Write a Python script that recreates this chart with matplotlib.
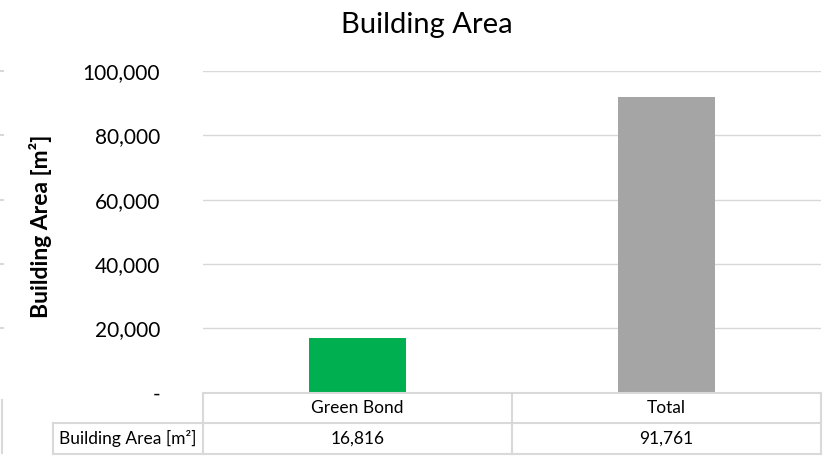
import matplotlib.pyplot as plt
from matplotlib.lines import Line2D
from matplotlib.ticker import FuncFormatter

categories = ['Green Bond', 'Total']
values = [16816, 91761]
series_name = 'Building Area [m²]'
bar_colors = ['#00B050', '#A5A5A5']
y_ticks = [0, 20000, 40000, 60000, 80000, 100000]

W, H = 830, 457
grid_col = '#D9D9D9'

plt.rcParams['font.family'] = ['Lato', 'DejaVu Sans']


def fx(px):
    return px / W


def fy(py):
    return 1 - py / H


def fmt(v, pos=None):
    return '-' if v == 0 else '{:,.0f}'.format(v)


fig = plt.figure(figsize=(W / 100, H / 100), dpi=100, facecolor='w')

# plot area
x0, x1, y0, y1 = 203, 821, 71, 392.5
ax = fig.add_axes([fx(x0), fy(y1), fx(x1) - fx(x0), fy(y0) - fy(y1)])
xx = list(range(len(categories)))
ax.bar(xx, values, width=0.315, color=bar_colors, zorder=3)
ax.set_xlim(-0.5, len(categories) - 0.5)
ax.set_ylim(0, 100000)
ax.set_yticks(y_ticks)
ax.yaxis.set_major_formatter(FuncFormatter(fmt))
ax.set_xticks([])
ax.tick_params(axis='y', length=0, pad=31, labelsize=15, colors='#000000')
for s in ax.spines.values():
    s.set_visible(False)
for t in y_ticks[1:]:
    ax.axhline(t, color=grid_col, lw=1.0, zorder=1)

fig.text(fx(427), fy(25), 'Building Area', ha='center', va='center', fontsize=21)
fig.text(fx(40), fy(226), series_name, rotation=90, ha='center', va='center',
         fontsize=16.5, fontweight='bold')

# data table under the bars
col_edges = [53, 203, 512, 821]
row_edges = [392.5, 423, 453.5]


def hline(y, xa, xb):
    fig.add_artist(Line2D([fx(xa), fx(xb)], [fy(y), fy(y)], color=grid_col, lw=1.5))


def vline(x, ya, yb):
    fig.add_artist(Line2D([fx(x), fx(x)], [fy(ya), fy(yb)], color=grid_col, lw=1.5))


hline(row_edges[0], col_edges[1], col_edges[-1])
hline(row_edges[1], col_edges[0], col_edges[-1])
hline(row_edges[2], col_edges[0], col_edges[-1])
vline(col_edges[0], row_edges[1], row_edges[2])
for c in col_edges[1:]:
    vline(c, row_edges[0], row_edges[2])

ymid1 = 0.5 * (row_edges[0] + row_edges[1])
ymid2 = 0.5 * (row_edges[1] + row_edges[2])
for i, name in enumerate(categories):
    xc = 0.5 * (col_edges[i + 1] + col_edges[i + 2])
    fig.text(fx(xc), fy(ymid1), name, ha='center', va='center', fontsize=12.5)
    fig.text(fx(xc), fy(ymid2), fmt(values[i]), ha='center', va='center', fontsize=12.5)
fig.text(fx(0.5 * (col_edges[0] + col_edges[1])), fy(ymid2), series_name,
         ha='center', va='center', fontsize=12.5)

# stubs of a neighbouring chart at the left edge
for t in y_ticks[1:]:
    yp = y1 - (y1 - y0) * t / 100000
    hline(yp, 0, 3)
vline(1.5, 400, 453)

fig.savefig('out.png', dpi=100)
